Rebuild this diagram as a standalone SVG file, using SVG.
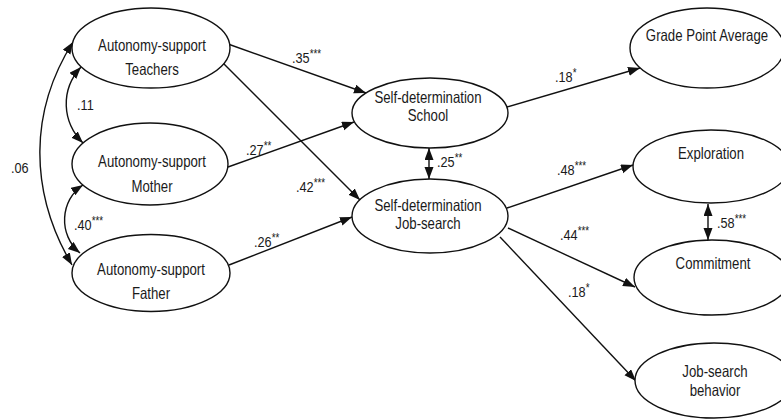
<svg xmlns="http://www.w3.org/2000/svg" width="781" height="419" viewBox="0 0 781 419">
  <style>
    .node ellipse { fill: #fff; stroke: #111; stroke-width: 1.4; }
    .nt { font-family: "Liberation Sans", Arial, sans-serif; font-size: 16.5px; fill: #1a1a1a; text-anchor: middle; }
    .lbl { font-family: "Liberation Sans", Arial, sans-serif; font-size: 15.5px; fill: #1a1a1a; }
    .sig { font-size: 12px; }
    .edge { fill: none; stroke: #111; stroke-width: 1.4; marker-end: url(#arr); }
    .both { marker-start: url(#arr); }
  </style>
  <defs>
    <marker id="arr" markerUnits="userSpaceOnUse" markerWidth="13" markerHeight="10" refX="12" refY="4.5" orient="auto-start-reverse">
      <path d="M0,0 L12,4.5 L0,9 z" fill="#111"/>
    </marker>
  </defs>
  <rect width="781" height="419" fill="#fff"/>

  <!-- paths and correlations -->
  <g id="connectors">
    <path class="edge" d="M228,44 L366,93"/>
    <path class="edge" d="M222,62 L360,200"/>
    <path class="edge" d="M228,167 L354,122"/>
    <path class="edge" d="M229,265 L352,217"/>
    <path class="edge both" d="M429,148 L429,179"/>
    <path class="edge" d="M507,107 L640,68"/>
    <path class="edge" d="M507,208 L633,165"/>
    <path class="edge" d="M508,228 L635,287"/>
    <path class="edge" d="M500,237 L636,381"/>
    <path class="edge both" d="M708,204 L708,240"/>
    <path class="edge both" d="M81,67 C60,90 62,122 83,143"/>
    <path class="edge both" d="M73,42 C30,110 28,190 72,265"/>
    <path class="edge both" d="M83,185 C60,200 58,235 80,253"/>
  </g>

  <!-- coefficients -->
  <g id="labels">
    <text class="lbl" transform="translate(292 63) scale(0.82 1)">.35<tspan class="sig" dy="-5">***</tspan></text>
    <text class="lbl" transform="translate(246 155) scale(0.82 1)">.27<tspan class="sig" dy="-5">**</tspan></text>
    <text class="lbl" transform="translate(296 192) scale(0.82 1)">.42<tspan class="sig" dy="-5">***</tspan></text>
    <text class="lbl" transform="translate(254 247) scale(0.82 1)">.26<tspan class="sig" dy="-5">**</tspan></text>
    <text class="lbl" transform="translate(437 167) scale(0.82 1)">.25<tspan class="sig" dy="-5">**</tspan></text>
    <text class="lbl" transform="translate(555 82) scale(0.82 1)">.18<tspan class="sig" dy="-5">*</tspan></text>
    <text class="lbl" transform="translate(557 175) scale(0.82 1)">.48<tspan class="sig" dy="-5">***</tspan></text>
    <text class="lbl" transform="translate(560 240) scale(0.82 1)">.44<tspan class="sig" dy="-5">***</tspan></text>
    <text class="lbl" transform="translate(568 297) scale(0.82 1)">.18<tspan class="sig" dy="-5">*</tspan></text>
    <text class="lbl" transform="translate(717 228) scale(0.82 1)">.58<tspan class="sig" dy="-5">***</tspan></text>
    <text class="lbl" transform="translate(77 110) scale(0.82 1)">.11</text>
    <text class="lbl" transform="translate(74 230) scale(0.82 1)">.40<tspan class="sig" dy="-5">***</tspan></text>
    <text class="lbl" transform="translate(11 173) scale(0.82 1)">.06</text>
  </g>

  <g id="teachers" class="node">
    <ellipse cx="151" cy="48" rx="79" ry="40"/>
    <text class="nt" transform="translate(152 51) scale(0.8 1)">Autonomy-support</text>
    <text class="nt" transform="translate(152 75) scale(0.8 1)">Teachers</text>
  </g>
  <g id="mother" class="node">
    <ellipse cx="150" cy="164" rx="78" ry="41"/>
    <text class="nt" transform="translate(152 167) scale(0.8 1)">Autonomy-support</text>
    <text class="nt" transform="translate(152 192) scale(0.8 1)">Mother</text>
  </g>
  <g id="father" class="node">
    <ellipse cx="151" cy="273" rx="79" ry="38.5"/>
    <text class="nt" transform="translate(151 275) scale(0.8 1)">Autonomy-support</text>
    <text class="nt" transform="translate(151 299) scale(0.8 1)">Father</text>
  </g>
  <g id="sd-school" class="node">
    <ellipse cx="430" cy="113" rx="78" ry="35"/>
    <text class="nt" transform="translate(428 103) scale(0.8 1)">Self-determination</text>
    <text class="nt" transform="translate(428 121) scale(0.8 1)">School</text>
  </g>
  <g id="sd-jobsearch" class="node">
    <ellipse cx="430" cy="216" rx="78" ry="37"/>
    <text class="nt" transform="translate(428 211) scale(0.8 1)">Self-determination</text>
    <text class="nt" transform="translate(428 229) scale(0.8 1)">Job-search</text>
  </g>
  <g id="gpa" class="node">
    <ellipse cx="707" cy="48" rx="77" ry="40"/>
    <text class="nt" transform="translate(707 41) scale(0.8 1)">Grade Point Average</text>
  </g>
  <g id="exploration" class="node">
    <ellipse cx="711" cy="166.5" rx="78" ry="36.5"/>
    <text class="nt" transform="translate(711 159) scale(0.8 1)">Exploration</text>
  </g>
  <g id="commitment" class="node">
    <ellipse cx="712" cy="277.5" rx="78" ry="37.5"/>
    <text class="nt" transform="translate(713 269) scale(0.8 1)">Commitment</text>
  </g>
  <g id="jobsearch-behavior" class="node">
    <ellipse cx="714" cy="380.5" rx="79" ry="37.5"/>
    <text class="nt" transform="translate(715 377) scale(0.8 1)">Job-search</text>
    <text class="nt" transform="translate(715 396) scale(0.8 1)">behavior</text>
  </g>
</svg>
